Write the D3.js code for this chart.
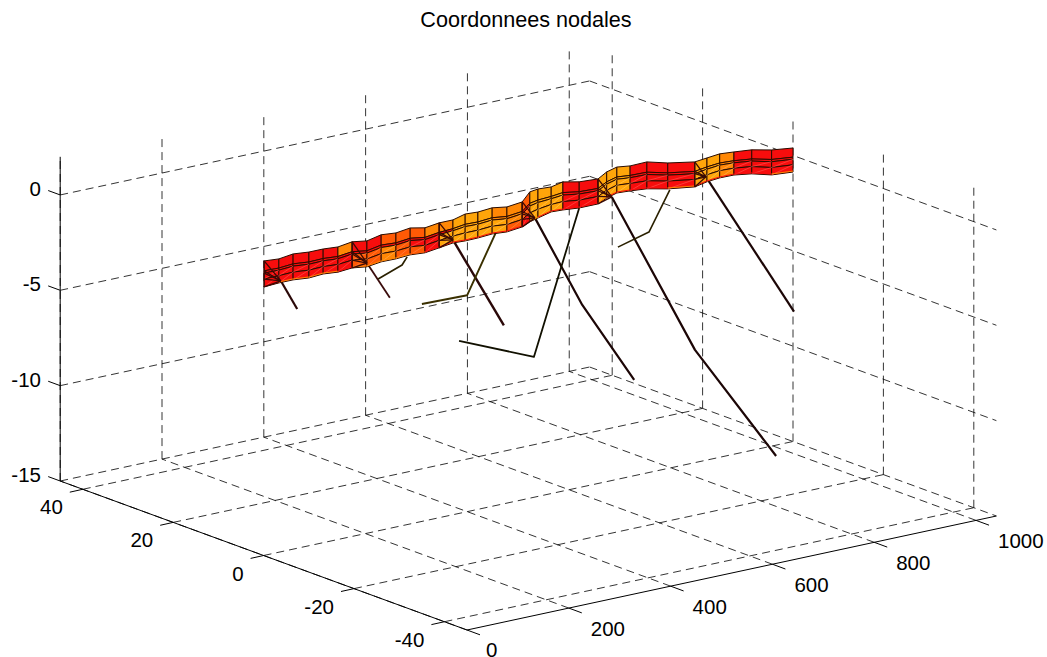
<!DOCTYPE html>
<html><head><meta charset="utf-8">
<script src="https://cdnjs.cloudflare.com/ajax/libs/d3/7.8.5/d3.min.js"></script>
<style>html,body{margin:0;padding:0;background:#fff}svg{display:block}text{font-family:"Liberation Sans",Arial,sans-serif;fill:#000}</style>
</head><body><svg id="c" width="1047" height="657"></svg>
<script>
const title = "Coordonnees nodales";
const xTicks = [0,200,400,600,800,1000];
const yTicks = [-40,-20,0,20,40];
const zTicks = [-15,-10,-5,0];
const xDomain = [0,1040], yDomain = [-45,45], zDomain = [-15,2];

// deck stations along the bridge (x) and the z of its five longitudinal lines
const stationX = [1,30,58,89,117,146,174,203,231,260,288,317,345,372,396,421,449,478,508,523,539,565,588,620,657,674,694,720,753,794,847,871,896,924,959,998,1040];
const zTop = [.44,.38,.48,.40,.40,.34,.45,.33,.49,.42,.52,.36,.46,.46,.63,.59,.65,.53,.62,1.06,1.12,1.08,1.21,1.03,.97,1.24,1.38,1.29,1.31,1.02,.77,.84,.91,.85,.76,.53,.39];
const zRow1 = [-.08,-.10,-.04,-.12,-.10,-.16,-.07,-.19,-.05,-.10,-.02,-.14,-.04,0,.09,.07,.13,.03,.12,.46,.54,.58,.65,.51,.47,.72,.86,.79,.77,.50,.27,.37,.43,.39,.28,.03,-.09];
const zRow2 = [-.20,-.21,-.16,-.24,-.22,-.28,-.19,-.31,-.18,-.22,-.14,-.26,-.16,-.11,-.03,-.05,.01,-.09,0,.32,.41,.46,.52,.39,.35,.60,.74,.67,.65,.38,.15,.25,.32,.28,.17,-.09,-.20];
const zRow3 = [-.51,-.50,-.47,-.55,-.52,-.58,-.51,-.62,-.50,-.53,-.47,-.56,-.46,-.39,-.36,-.36,-.31,-.39,-.30,-.04,.06,.16,.18,.07,.05,.28,.43,.37,.32,.07,-.15,-.04,.03,0,-.12,-.39,-.49];
const zBottom = [-.92,-.88,-.88,-.96,-.91,-.98,-.92,-1.03,-.93,-.94,-.89,-.95,-.85,-.75,-.78,-.77,-.72,-.78,-.69,-.51,-.40,-.23,-.26,-.34,-.34,-.13,.02,-.02,-.10,-.34,-.54,-.41,-.35,-.36,-.50,-.78,-.87];
// colour codes per segment, top row to bottom row
const segmentColors = ["RRRR","RRRR","RRRR","RRRR","RRRR","ORRR","RRQQ","RRQQ","QROO","QRQQ","QRRQ","ORRR","ORAA","AAAA","AAAA","AAAA","OOAA","OOOQ","QRQR","AAAA","AAAA","AAAA","RRRR","RRRR","AAAA","AAAA","AAAA","RRRR","RRRR","RRRR","AAAA","AAAA","OOOO","RRRR","RRRR","RRRR"];
// colour of the thin sliver that shows along the underside of each segment
const bottomEdge = ["R","O","O","O","O","R","O","O","O","O","Q","R","R","R","R","R","R","R","R","O","R","R","R","R","O","R","R","R","R","O","R","R","R","R","R","O"];
const palette = {R:"#f70d0d",Q:"#ff5a05",O:"#ff8705",A:"#ffa50a"};
const highlight = {R:"#fb5a55",Q:"#ff8c50",O:"#ffb060",A:"#ffc860"};

// pier-head stations (indices into stationX) and the head point where each fan meets
const fanStations = [0,6,12,18,24,30];
const fanHeads = [[34,0,-.80],[203,0,-.83],[372,0,-.59],[533,0,-.36],[684,0,-.13],[869,0,-.14]];

// piers and struts: [x,y,z] polylines
const pierA = [[34,0,-.80],[66,0,-2.45]];
const pierB = [[203,0,-.83],[248,0,-2.91]];
const pierC = [[282,0,-.96],[272,0,-1.33],[225,0,-1.79]];
const pierD = [[372,0,-.59],[472,0,-5.65]];
const pierE = [[456,0,-.70],[400,0,-3.65],[311,0,-3.60]];
const pierF = [[533,0,-.36],[626,0,-5.46],[728,0,-9.98]];
const pierG = [[620,0,-.34],[531,0,-7.64],[384,0,-5.95]];
const pierH = [[684,0,-.13],[803,-5,-8.40],[918,-10,-14.19]];
const pierI = [[798,0,-.42],[757,0,-2.39],[696,0,-2.83]];
const pierJ = [[869,0,-.14],[1042,0,-8.20]];
const piers = [
 {p:pierA,c:"#2a0808",w:2.2},{p:pierB,c:"#3a0c0c",w:1.8},{p:pierC,c:"#2a2000",w:1.7},
 {p:pierD,c:"#2a0808",w:2.4},{p:pierE,c:"#3a3000",w:1.9},{p:pierF,c:"#1c0606",w:2.2},
 {p:pierG,c:"#111000",w:1.8},{p:pierH,c:"#1c0606",w:2.2},{p:pierI,c:"#2a2000",w:1.6},{p:pierJ,c:"#1c0606",w:2.2}];

// projection: three scales give the screen offset along each 3D axis
const sxX = d3.scaleLinear().domain(xDomain).range([467,996.4]);
const syX = d3.scaleLinear().domain(xDomain).range([630,516]);
const sxY = d3.scaleLinear().domain(yDomain).range([0,-406.8]);
const syY = d3.scaleLinear().domain(yDomain).range([0,-149]);
const syZ = d3.scaleLinear().domain(zDomain).range([0,-324.2]);
const P = (x,y,z)=>[sxX(x)+sxY(y), syX(x)+syY(y)+syZ(z)];

const svg = d3.select("#c");
const line = d3.line();

// grid
const grid = svg.append("g").attr("fill","none").attr("stroke","#000").attr("stroke-width",.8).attr("stroke-dasharray","8 5");
const [x0,x1]=xDomain,[y0,y1]=yDomain,[z0,z1]=zDomain;
const gl=[];
xTicks.forEach(x=>{gl.push([P(x,y0,z0),P(x,y1,z0)]);gl.push([P(x,y1,z0),P(x,y1,z1)]);});
yTicks.forEach(y=>{gl.push([P(x0,y,z0),P(x1,y,z0)]);gl.push([P(x1,y,z0),P(x1,y,z1)]);});
zTicks.forEach(z=>{gl.push([P(x0,y1,z),P(x1,y1,z)]);gl.push([P(x1,y1,z),P(x1,y0,z)]);});
grid.selectAll("path").data(gl).join("path").attr("d",d=>line(d));

// axes
const ax = svg.append("g").attr("fill","none").attr("stroke","#000").attr("stroke-width",1);
ax.selectAll("path.a").data([[P(x0,y1,z0),P(x0,y0,z0)],[P(x0,y0,z0),P(x1,y0,z0)],[P(x0,y1,z0),P(x0,y1,z1)]])
  .join("path").attr("class","a").attr("d",d=>line(d));
const tickLines=[];
xTicks.forEach(x=>{const a=P(x,y0,z0);tickLines.push([a,[a[0]+13,a[1]+4.8]]);});
yTicks.forEach(y=>{const a=P(x0,y,z0);tickLines.push([a,[a[0]-13,a[1]+2.9]]);});
zTicks.forEach(z=>{const a=P(x0,y1,z);tickLines.push([a,[a[0]-12,a[1]-4.4]]);});
ax.selectAll("path.t").data(tickLines).join("path").attr("class","t").attr("d",d=>line(d));

// labels
const fs=20.5;
svg.append("text").attr("x",526).attr("y",27).attr("text-anchor","middle").attr("font-size",21.6).text(title);
const lab=svg.append("g").attr("font-size",fs);
lab.selectAll("text.x").data(xTicks).join("text").attr("class","x").attr("text-anchor","start")
  .attr("x",d=>P(d,y0,z0)[0]+(d===0?19:22)).attr("y",d=>P(d,y0,z0)[1]+(d===0?26.5:28)).text(d=>d);
lab.selectAll("text.y").data(yTicks).join("text").attr("class","y").attr("text-anchor","end")
  .attr("x",d=>P(x0,d,z0)[0]-20).attr("y",d=>P(x0,d,z0)[1]+25).text(d=>d);
lab.selectAll("text.z").data(zTicks).join("text").attr("class","z").attr("text-anchor","end")
  .attr("x",41).attr("y",d=>P(x0,y1,d)[1]+1).text(d=>d);

// piers
svg.append("g").attr("fill","none").selectAll("path").data(piers).join("path")
  .attr("d",d=>line(d.p.map(q=>P(...q)))).attr("stroke",d=>d.c).attr("stroke-width",d=>d.w).attr("stroke-linejoin","round");

// deck mesh
const rows=[zTop,zRow1,zRow2,zRow3,zBottom];
const cells=[], diagonals=[], slivers=[];
segmentColors.forEach((code,i)=>{for(let r=0;r<4;r++){
  const a=P(stationX[i],0,rows[r][i]),b=P(stationX[i+1],0,rows[r][i+1]),c=P(stationX[i+1],0,rows[r+1][i+1]),d=P(stationX[i],0,rows[r+1][i]);
  cells.push({pts:[a,b,c,d],c:palette[code[r]]});
  if(r>=2) diagonals.push({pts:[d,b],c:highlight[code[r]]});
 }
 slivers.push({pts:[P(stationX[i],0,zBottom[i]+.05),P(stationX[i+1],0,zBottom[i+1]+.05)],c:palette[bottomEdge[i]]});
});
const deck=svg.append("g");
deck.selectAll("path.c").data(cells).join("path").attr("class","c")
  .attr("d",d=>line(d.pts)+"Z").attr("fill",d=>d.c).attr("stroke","#2a0c00").attr("stroke-width",1).attr("stroke-linejoin","round");
deck.selectAll("path.d").data(diagonals).join("path").attr("class","d")
  .attr("d",d=>line(d.pts)).attr("fill","none").attr("stroke",d=>d.c).attr("stroke-width",.6);
deck.selectAll("path.s").data(slivers).join("path").attr("class","s")
  .attr("d",d=>line(d.pts)).attr("fill","none").attr("stroke",d=>d.c).attr("stroke-width",1);

// diaphragm fans at the pier heads
const fans=[];
fanStations.forEach((si,k)=>{rows.forEach(r=>fans.push([P(stationX[si],0,r[si]),P(...fanHeads[k])]));
  fans.push([P(stationX[si],0,zTop[si]),P(stationX[si],0,zBottom[si])]);});
svg.append("g").attr("fill","none").attr("stroke","#3a0a05").attr("stroke-width",1.3)
  .selectAll("path").data(fans).join("path").attr("d",d=>line(d));
</script></body></html>
